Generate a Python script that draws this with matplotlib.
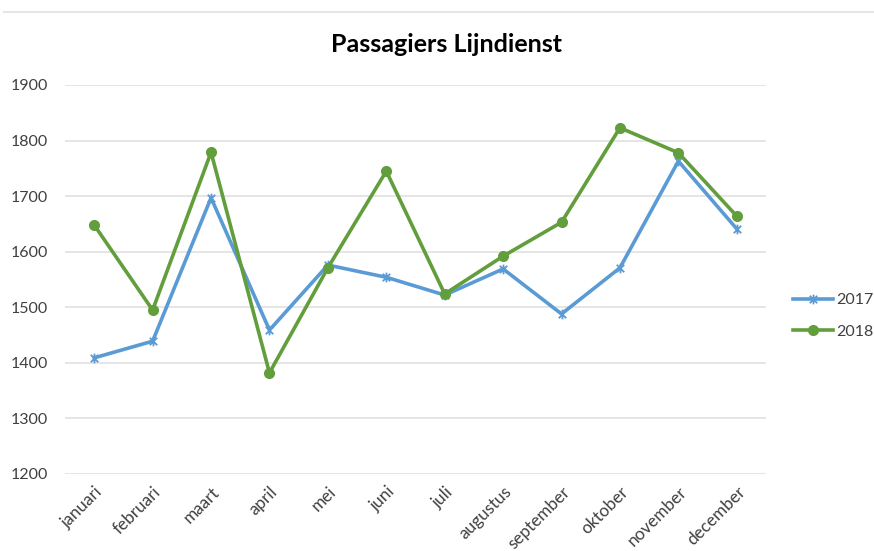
import matplotlib.pyplot as plt
from matplotlib.path import Path
from matplotlib.lines import Line2D

maanden = ["januari", "februari", "maart", "april", "mei", "juni", "juli",
           "augustus", "september", "oktober", "november", "december"]
pax_2017 = [1409, 1439, 1697, 1459, 1576, 1554, 1522, 1569, 1488, 1571, 1763, 1641]
pax_2018 = [1648, 1495, 1779, 1382, 1571, 1745, 1524, 1592, 1653, 1823, 1778, 1664]
y_ticks = [1200, 1300, 1400, 1500, 1600, 1700, 1800, 1900]

plt.rcParams['font.family'] = ['Lato', 'DejaVu Sans']

blauw = "#5B9BD5"
groen = "#629E3C"
tekst = "#404040"

# star marker: an x with a vertical stroke through it
ster = Path([(-1, -1), (1, 1), (-1, 1), (1, -1), (0, -1.3), (0, 1.3)],
            [Path.MOVETO, Path.LINETO, Path.MOVETO, Path.LINETO, Path.MOVETO, Path.LINETO])

fig = plt.figure(figsize=(8.74, 5.51), dpi=100)
ax = fig.add_axes([65 / 874, 1 - 474 / 551, 701 / 874, 389 / 551])

x = range(len(maanden))
ax.plot(x, pax_2017, color=blauw, lw=2.6, marker=ster, markersize=7,
        markeredgewidth=1.3, markerfacecolor='none', markeredgecolor=blauw, label="2017")
ax.plot(x, pax_2018, color=groen, lw=2.6, marker='o', markersize=8,
        markeredgewidth=0, markerfacecolor=groen, label="2018")

ax.set_xlim(-0.5, len(maanden) - 0.5)
ax.set_ylim(1200, 1900)
ax.set_yticks(y_ticks)
ax.yaxis.grid(True, color="#E0E0E0", lw=1.2)
ax.set_axisbelow(True)
for s in ax.spines.values():
    s.set_visible(False)
ax.tick_params(length=0, labelsize=11.5, colors=tekst, pad=12)
ax.tick_params(axis='x', pad=7, labelsize=12.3)
ax.set_xticks(list(x))
ax.set_xticklabels(maanden, rotation=45, ha='right', rotation_mode='anchor')

fig.text(447 / 874, 1 - 45 / 551, "Passagiers Lijndienst", ha='center', va='center',
         fontsize=18, fontweight='bold', color='black')

fig.legend(loc='center left', bbox_to_anchor=(793 / 874, 1 - 316 / 551), frameon=False,
           fontsize=11.5, labelcolor=tekst, handlelength=2.5, labelspacing=1.1,
           handletextpad=0.2, borderpad=0, borderaxespad=0)

# thin border line at the top of the chart area
fig.add_artist(Line2D([0.005, 1.0], [1 - 12 / 551, 1 - 12 / 551], color="#E6E6E6", lw=1.5))

fig.savefig("out.png", dpi=100)
